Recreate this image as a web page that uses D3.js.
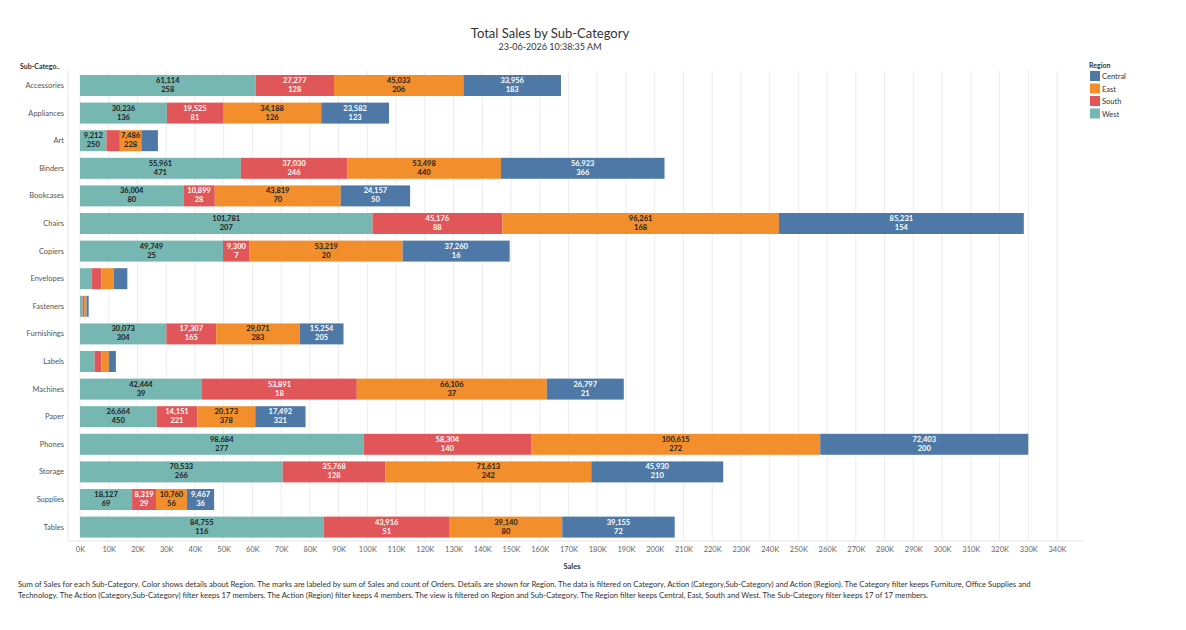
<!DOCTYPE html>
<html>
<head>
<meta charset="utf-8">
<script src="https://cdn.jsdelivr.net/npm/d3@7"></script>
<style>
  body { margin: 0; background: #fff; font-family: Lato, "Open Sans", sans-serif; }
  .tick text { fill: #666; }
</style>
</head>
<body>
<div id="chart"></div>
<script>
// sub-categories, top to bottom
var categories = ["Accessories", "Appliances", "Art", "Binders", "Bookcases", "Chairs", "Copiers",
  "Envelopes", "Fasteners", "Furnishings", "Labels", "Machines", "Paper", "Phones", "Storage",
  "Supplies", "Tables"];
// stack order, left to right
var regions = ["West", "South", "East", "Central"];
var legendRegions = ["Central", "East", "South", "West"];
var regionColors = ["#76b7b2", "#e15759", "#f28e2b", "#4e79a7"];

var westSales    = [61114, 30236, 9212, 55961, 36004, 101781, 49749, 4118, 923, 30073, 5079, 42444, 26664, 98684, 70533, 18127, 84755];
var southSales   = [27277, 19525, 4655, 37030, 10899, 45176, 9300, 3346, 503, 17307, 2353, 53891, 14151, 58304, 35768, 8319, 43916];
var eastSales    = [45033, 34188, 7486, 53498, 43819, 96261, 53219, 4376, 820, 29071, 2603, 66106, 20173, 100615, 71613, 10760, 39140];
var centralSales = [33956, 23582, 5766, 56923, 24157, 85231, 37260, 4636, 778, 15254, 2451, 26797, 17492, 72403, 45930, 9467, 39155];

// order counts (null where the picture shows no label)
var westOrders    = [258, 136, 250, 471, 80, 207, 25, null, null, 304, null, 39, 450, 277, 266, 69, 116];
var southOrders   = [128, 81, null, 246, 28, 88, 7, null, null, 165, null, 18, 221, 140, 128, 29, 51];
var eastOrders    = [206, 126, 228, 440, 70, 168, 20, null, null, 283, null, 37, 378, 272, 242, 56, 80];
var centralOrders = [183, 123, null, 366, 50, 154, 16, null, null, 205, null, 21, 321, 200, 210, 36, 72];

var xTicks = d3.range(0, 340001, 10000);

var footerLines = [
  "Sum of Sales for each Sub-Category.  Color shows details about Region.  The marks are labeled by sum of Sales and count of Orders.  Details are shown for Region. The data is filtered on Category, Action (Category,Sub-Category) and Action (Region). The Category filter keeps Furniture, Office Supplies and",
  "Technology. The Action (Category,Sub-Category) filter keeps 17 members. The Action (Region) filter keeps 4 members. The view is filtered on Region and Sub-Category. The Region filter keeps Central, East, South and West. The Sub-Category filter keeps 17 of 17 members."
];

var salesBy = { West: westSales, South: southSales, East: eastSales, Central: centralSales };
var ordersBy = { West: westOrders, South: southOrders, East: eastOrders, Central: centralOrders };

var rows = categories.map(function(c, i) {
  var r = { cat: c };
  regions.forEach(function(g) { r[g] = salesBy[g][i]; r[g + "_n"] = ordersBy[g][i]; });
  return r;
});

var width = 1186, height = 630;
var paneLeft = 68, paneRight = 1084, paneTop = 71, paneBottom = 541;

var svg = d3.select("#chart").append("svg")
    .attr("width", width)
    .attr("height", height);

var x = d3.scaleLinear().domain([0, 340000]).range([80, 1057]);
var y = d3.scaleBand().domain(categories).range([71.7, 540.9]).paddingInner(0.24).paddingOuter(0.12);
var color = d3.scaleOrdinal().domain(regions).range(regionColors);

// title
svg.append("text")
  .attr("x", 550).attr("y", 38)
  .attr("text-anchor", "middle")
  .style("font-size", "13px").style("fill", "#333")
  .text("Total Sales by Sub-Category");
svg.append("text")
  .attr("x", 550).attr("y", 50)
  .attr("text-anchor", "middle")
  .style("font-size", "9px").style("fill", "#333")
  .text("23-06-2026 10:38:35 AM");

// gridlines
svg.append("g").selectAll("line").data(xTicks)
  .enter().append("line")
    .attr("x1", function(d) { return x(d); })
    .attr("x2", function(d) { return x(d); })
    .attr("y1", paneTop).attr("y2", paneBottom)
    .attr("stroke", "#ececec").attr("stroke-width", 1);

// pane border
svg.append("line").attr("x1", paneLeft).attr("x2", paneLeft).attr("y1", paneTop).attr("y2", paneBottom)
  .attr("stroke", "#e6e6e6");

// stacked bars
var stack = d3.stack().keys(regions);
var series = stack(rows);

var layers = svg.append("g").selectAll("g").data(series)
  .enter().append("g")
    .attr("fill", function(d) { return color(d.key); });

layers.selectAll("rect").data(function(d) { return d; })
  .enter().append("rect")
    .attr("x", function(d) { return x(d[0]); })
    .attr("y", function(d) { return y(d.data.cat); })
    .attr("width", function(d) { return x(d[1]) - x(d[0]); })
    .attr("height", y.bandwidth());

// labels: sales on top, order count below
var labelColor = { West: "#222", East: "#222", South: "#fff", Central: "#fff" };
series.forEach(function(s) {
  s.forEach(function(d) {
    var n = d.data[s.key + "_n"];
    var w = x(d[1]) - x(d[0]);
    if (n == null || w < 20) return;
    var cx = (x(d[0]) + x(d[1])) / 2,
        cy = y(d.data.cat) + y.bandwidth() / 2;
    var t = svg.append("text")
      .attr("x", cx).attr("y", cy - 2.5)
      .attr("text-anchor", "middle")
      .style("font-size", "7.5px").style("font-weight", "bold")
      .style("fill", labelColor[s.key]);
    t.append("tspan").attr("x", cx).attr("dy", 0).text(d3.format(",")(d.data[s.key]));
    t.append("tspan").attr("x", cx).attr("dy", 9).text(n);
  });
});

// x axis
var xAxis = svg.append("g")
  .attr("transform", "translate(0," + paneBottom + ")")
  .call(d3.axisBottom(x).tickValues(xTicks).tickSize(0).tickPadding(6)
    .tickFormat(function(d) { return (d / 1000) + "K"; }));
xAxis.select(".domain").remove();
xAxis.selectAll("text").style("font-size", "7.5px").style("font-family", "Lato, sans-serif");
svg.append("line").attr("x1", paneLeft).attr("x2", paneRight).attr("y1", paneBottom).attr("y2", paneBottom)
  .attr("stroke", "#e6e6e6");

svg.append("text")
  .attr("x", 572).attr("y", 569)
  .attr("text-anchor", "middle")
  .style("font-size", "7.5px").style("font-weight", "bold").style("fill", "#333")
  .text("Sales");

// y axis labels
var yAxis = svg.append("g")
  .attr("transform", "translate(" + (paneLeft - 4) + ",0)")
  .call(d3.axisLeft(y).tickSize(0).tickPadding(0));
yAxis.select(".domain").remove();
yAxis.selectAll("text").style("font-size", "7.5px").style("font-family", "Lato, sans-serif").style("fill", "#555");

svg.append("text")
  .attr("x", 20).attr("y", 69)
  .style("font-size", "7px").style("font-weight", "bold").style("fill", "#333")
  .text("Sub-Catego..");

// legend
var legend = svg.append("g").attr("transform", "translate(1089,0)");
legend.append("text").attr("x", 0).attr("y", 68)
  .style("font-size", "7px").style("font-weight", "bold").style("fill", "#333")
  .text("Region");
var items = legend.selectAll(".legend-item").data(legendRegions)
  .enter().append("g")
    .attr("class", "legend-item")
    .attr("transform", function(d, i) { return "translate(0," + (71 + i * 12.5) + ")"; });
items.append("rect").attr("x", 1).attr("width", 10).attr("height", 10)
  .attr("fill", function(d) { return color(d); });
items.append("text").attr("x", 13).attr("y", 8)
  .style("font-size", "7.5px").style("fill", "#333")
  .text(function(d) { return d; });

// footer
svg.append("g").selectAll("text").data(footerLines)
  .enter().append("text")
    .attr("x", 18)
    .attr("y", function(d, i) { return 587 + i * 10.5; })
    .style("font-size", "7.7px").style("fill", "#333")
    .text(function(d) { return d; });
</script>
</body>
</html>
